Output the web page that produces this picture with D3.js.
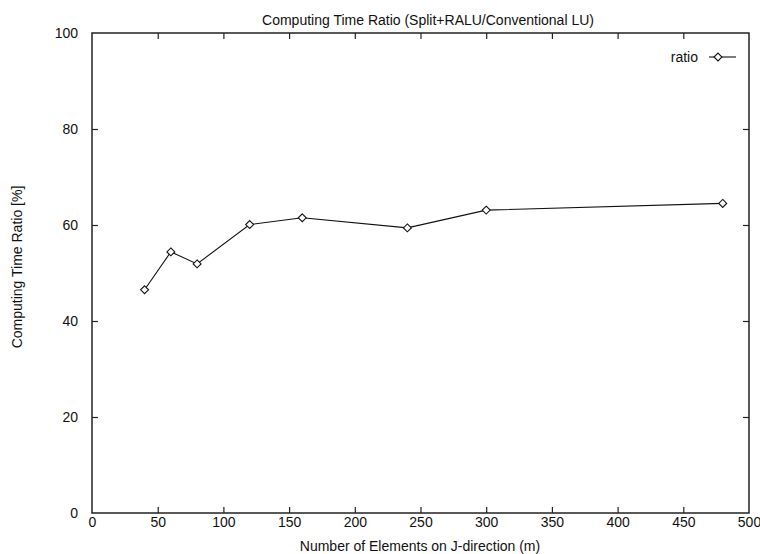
<!DOCTYPE html>
<html>
<head>
<meta charset="utf-8">
<script src="https://cdn.jsdelivr.net/npm/d3@7"></script>
<style>
html,body{margin:0;padding:0;background:#fff;}
text{font-family:"Liberation Sans",Arial,Helvetica,sans-serif;fill:#111;}
</style>
</head>
<body>
<svg id="chart" width="760" height="554"></svg>
<script>
const xValues = [40, 60, 80, 120, 160, 240, 300, 480];
const ratioValues = [46.5, 54.4, 51.9, 60.1, 61.5, 59.4, 63.1, 64.5];
const xTicks = [0, 50, 100, 150, 200, 250, 300, 350, 400, 450, 500];
const yTicks = [0, 20, 40, 60, 80, 100];
const titleText = "Computing Time Ratio (Split+RALU/Conventional LU)";
const xLabel = "Number of Elements on J-direction (m)";
const yLabel = "Computing Time Ratio [%]";
const seriesName = "ratio";

const svg = d3.select("#chart");
const L = 92, R = 749, T = 33, B = 513;
const x = d3.scaleLinear().domain([0, 500]).range([L, R]);
const y = d3.scaleLinear().domain([0, 100]).range([B, T]);
const tickLen = 6;
const fs = 14;

const gx = svg.append("g").attr("transform", `translate(0,${B})`)
  .call(d3.axisBottom(x).tickValues(xTicks).tickSize(-tickLen).tickPadding(4).tickFormat(d3.format("d")));
const gxTop = svg.append("g").attr("transform", `translate(0,${T})`)
  .call(d3.axisTop(x).tickValues(xTicks).tickSize(-tickLen).tickFormat(""));
const gy = svg.append("g").attr("transform", `translate(${L},0)`)
  .call(d3.axisLeft(y).tickValues(yTicks).tickSize(-tickLen).tickPadding(14).tickFormat(d3.format("d")));
const gyR = svg.append("g").attr("transform", `translate(${R},0)`)
  .call(d3.axisRight(y).tickValues(yTicks).tickSize(-tickLen).tickFormat(""));

[gx, gxTop, gy, gyR].forEach(g => {
  g.select(".domain").remove();
  g.selectAll(".tick line").attr("stroke", "#222").attr("stroke-width", 1.2);
  g.selectAll("text").style("font-size", fs + "px").attr("fill", "#111")
    .style("font-family", "'Liberation Sans',Arial,sans-serif");
});
gx.selectAll(".tick").filter(d => d === 0 || d === 500).select("line").remove();
gxTop.selectAll(".tick").filter(d => d === 0 || d === 500).remove();
gy.selectAll(".tick").filter(d => d === 0 || d === 100).select("line").remove();
gyR.selectAll(".tick").filter(d => d === 0 || d === 100).remove();
gy.selectAll("text").attr("dy", "0.35em");
gx.selectAll("text").attr("y", 4).attr("dy", "0.71em");

svg.append("rect").attr("x", L).attr("y", T).attr("width", R - L).attr("height", B - T)
  .attr("fill", "none").attr("stroke", "#222").attr("stroke-width", 1.5);

const data = xValues.map((v, i) => ({x: v, y: ratioValues[i]}));
svg.append("path").datum(data)
  .attr("fill", "none").attr("stroke", "#111").attr("stroke-width", 1.1)
  .attr("d", d3.line().x(d => x(d.x)).y(d => y(d.y)));

const diamond = d3.symbol().type(d3.symbolDiamond2).size(40);
svg.append("g").selectAll("path").data(data).join("path")
  .attr("d", diamond)
  .attr("transform", d => `translate(${x(d.x)},${y(d.y)})`)
  .attr("fill", "#fff").attr("stroke", "#111").attr("stroke-width", 1.1);

svg.append("text").attr("x", 698).attr("y", 62).attr("text-anchor", "end")
  .style("font-size", fs + "px").text(seriesName);
svg.append("line").attr("x1", 709).attr("x2", 736).attr("y1", 57).attr("y2", 57)
  .attr("stroke", "#111").attr("stroke-width", 1.1);
svg.append("path").attr("d", diamond).attr("transform", "translate(718,57)")
  .attr("fill", "#fff").attr("stroke", "#111").attr("stroke-width", 1.1);

svg.append("text").attr("x", 428).attr("y", 25).attr("text-anchor", "middle")
  .style("font-size", fs + "px").text(titleText);
svg.append("text").attr("x", 420).attr("y", 551).attr("text-anchor", "middle")
  .style("font-size", fs + "px").text(xLabel);
svg.append("text").attr("transform", "translate(22,267) rotate(-90)").attr("text-anchor", "middle")
  .style("font-size", fs + "px").text(yLabel);
</script>
</body>
</html>
